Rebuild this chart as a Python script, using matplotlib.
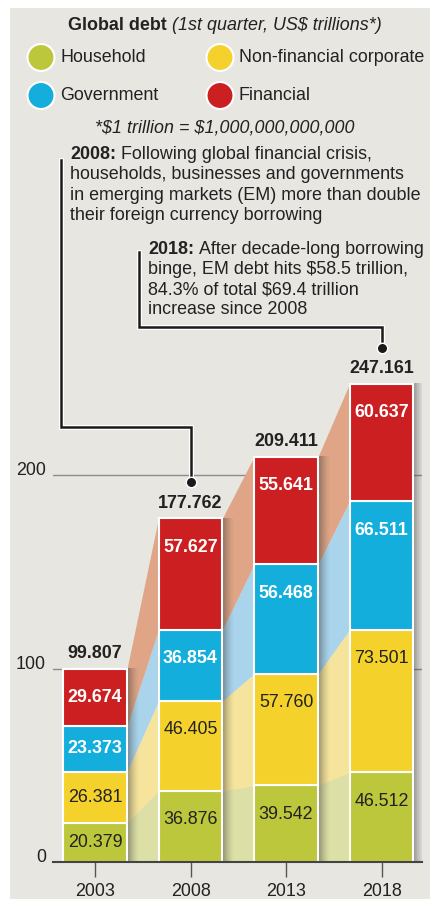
import matplotlib
matplotlib.use("Agg")
import matplotlib.pyplot as plt
import matplotlib.patheffects as pe
import numpy as np
from matplotlib.patches import Circle, Rectangle
from matplotlib.transforms import ScaledTranslation

# Global debt by sector, 1st quarter, US$ trillions
years = ["2003", "2008", "2013", "2018"]
household = [20.379, 36.876, 39.542, 46.512]
nonfin_corporate = [26.381, 46.405, 57.760, 73.501]
government = [23.373, 36.854, 56.468, 66.511]
financial = [29.674, 57.627, 55.641, 60.637]

sector_names = ["Household", "Non-financial corporate", "Government", "Financial"]
sector_values = [household, nonfin_corporate, government, financial]
sector_colors = ["#BDC73C", "#F4D22B", "#13AEDC", "#CC1F22"]
band_colors = ["#DDE0A6", "#F6E49C", "#A9D4EC", "#DFA586"]
label_colors = ["#222222", "#222222", "white", "white"]
label_weights = ["normal", "normal", "bold", "bold"]

note_2008 = ["Following global financial crisis,",
             "households, businesses and governments",
             "in emerging markets (EM) more than double",
             "their foreign currency borrowing"]
note_2018 = ["After decade-long borrowing",
             r"binge, EM debt hits \$58.5 trillion,",
             r"84.3% of total \$69.4 trillion",
             "increase since 2008"]

plt.rcParams["font.family"] = ["Liberation Sans", "DejaVu Sans"]
TXT = "#222222"
BG = "#E8E6E1"
FS = 12.9

W, H = 430, 899
fig = plt.figure(figsize=(W / 100, H / 100), dpi=100)
fig.patch.set_facecolor("white")

# pixel-space layer for the panel, title, legend and notes
lay = fig.add_axes([0, 0, 1, 1])
lay.set_xlim(0, W)
lay.set_ylim(H, 0)
lay.axis("off")
lay.set_zorder(0)
lay.add_patch(Rectangle((10, 8), W - 10, H - 8, color=BG, lw=0))


def two_part(x, y, first, rest, fs=FS, rest_style="normal"):
    t = lay.text(x, y, first, fontsize=fs, weight="bold", color=TXT,
                 ha="left", va="baseline")
    lay.annotate(rest, xy=(1, 0), xycoords=t, xytext=(3.6, 0),
                 textcoords="offset points", fontsize=fs, color=TXT,
                 style=rest_style, ha="left", va="bottom")
    return t


two_part(68, 30.5, "Global debt", r"(1st quarter, US\$ trillions*)", rest_style="italic")

for k, name in enumerate(sector_names):
    col, row = k % 2, k // 2
    cx = 41 + col * 179
    cy = 57.5 + row * 38
    lay.add_patch(Circle((cx, cy), 13.5, facecolor=sector_colors[k],
                         edgecolor="white", lw=1.5))
    lay.text(cx + 19, cy + 4.5, name, fontsize=FS, color=TXT, ha="left", va="baseline")

lay.text(225, 132.5, r"*\$1 trillion = \$1,000,000,000,000", fontsize=FS,
         style="italic", color=TXT, ha="center", va="baseline")

two_part(70, 159, "2008:", note_2008[0])
for j, line in enumerate(note_2008[1:], start=1):
    lay.text(70, 159 + 20.3 * j, line, fontsize=FS, color=TXT, ha="left", va="baseline")

two_part(148, 254, "2018:", note_2018[0])
for j, line in enumerate(note_2018[1:], start=1):
    lay.text(148, 254 + 20 * j, line, fontsize=FS, color=TXT, ha="left", va="baseline")

# chart axes: bar centres 95.5 px apart, 1.935 px per trillion
X0, DX, PY = 95.0, 95.5, 1.935
left_px, right_px, base_px, top_px = 53, 422, 862, 140
ax = fig.add_axes([left_px / W, (H - base_px) / H,
                   (right_px - left_px) / W, (base_px - top_px) / H])
ax.set_zorder(1)
ax.patch.set_visible(False)
xlim = ((left_px - X0) / DX, (right_px - X0) / DX)
ylim = (0, (base_px - top_px) / PY)

x = np.arange(len(years))
w = 0.67
vals = np.array(sector_values)
tops = np.cumsum(vals, axis=0)
bots = tops - vals
totals = tops[-1]

for g in (100, 200):
    ax.axhline(g, color="#8C8C8C", lw=1, zorder=0.5)

# translucent bands linking segment boundaries between neighbouring bars
for i in range(len(years) - 1):
    xs = [x[i] + w / 2, x[i + 1] - w / 2]
    for k in range(len(sector_names)):
        ax.fill_between(xs, [bots[k, i], bots[k, i + 1]], [tops[k, i], tops[k, i + 1]],
                        color=band_colors[k], lw=0, zorder=1)

# soft shadow on the right side of each bar
grad = np.zeros((1, 60, 4))
grad[..., :3] = 0.2
grad[0, :, 3] = 0.5 * np.linspace(1, 0, 60) ** 1.6
for i in range(len(years)):
    ax.imshow(grad, extent=(x[i] + w / 2, x[i] + w / 2 + 0.13, 0, totals[i]),
              aspect="auto", interpolation="bilinear", zorder=2)

for k in range(len(sector_names)):
    ax.bar(x, vals[k], w, bottom=bots[k], color=sector_colors[k],
           edgecolor="white", lw=1.5, zorder=3)
    for i in range(len(years)):
        ty = tops[k, i] - min(15, vals[k, i] / 2)
        ax.text(x[i], ty, f"{vals[k, i]:.3f}", ha="center", va="center",
                fontsize=FS, color=label_colors[k], weight=label_weights[k], zorder=5)

for i in range(len(years)):
    ax.annotate(f"{totals[i]:.3f}", (x[i], totals[i]), xytext=(0, 10.8),
                textcoords="offset points", ha="center", va="center",
                fontsize=FS, weight="bold", color=TXT, zorder=5)

# callout leaders from the notes down to the 2008 and 2018 totals
halo = [pe.Stroke(linewidth=3.6, foreground="white"), pe.Normal()]
callouts = [(1, -0.356, 363.0, 225.0), (3, 0.46, 315.0, 276.5)]
for bar, lx, ly_top, ly_elbow in callouts:
    dot_y = totals[bar] + 18.5
    ax.plot([lx, lx, x[bar], x[bar]], [ly_top, ly_elbow, ly_elbow, dot_y],
            color="#1A1A1A", lw=1.8, path_effects=halo, clip_on=False,
            solid_joinstyle="miter", zorder=6)
    ax.plot(x[bar], dot_y, "o", ms=7.5, mfc="#1A1A1A", mec="white", mew=1,
            clip_on=False, zorder=7)

ax.set_xlim(*xlim)
ax.set_ylim(*ylim)
for s in ("top", "right", "left"):
    ax.spines[s].set_visible(False)
ax.spines["bottom"].set_color("#444444")
ax.spines["bottom"].set_linewidth(1.5)
ax.spines["bottom"].set_zorder(4)

ax.set_xticks(x, years)
ax.tick_params(axis="x", length=10.8, width=1, color="#555555", pad=4.3,
               labelsize=FS, labelcolor=TXT)
ax.set_yticks([0, 100, 200])
ax.tick_params(axis="y", length=0, pad=5, labelsize=FS, labelcolor=TXT)
lift = ScaledTranslation(0, 0.06, fig.dpi_scale_trans)
for lab in ax.get_yticklabels():
    lab.set_transform(lab.get_transform() + lift)

fig.savefig("out.png", dpi=100)
